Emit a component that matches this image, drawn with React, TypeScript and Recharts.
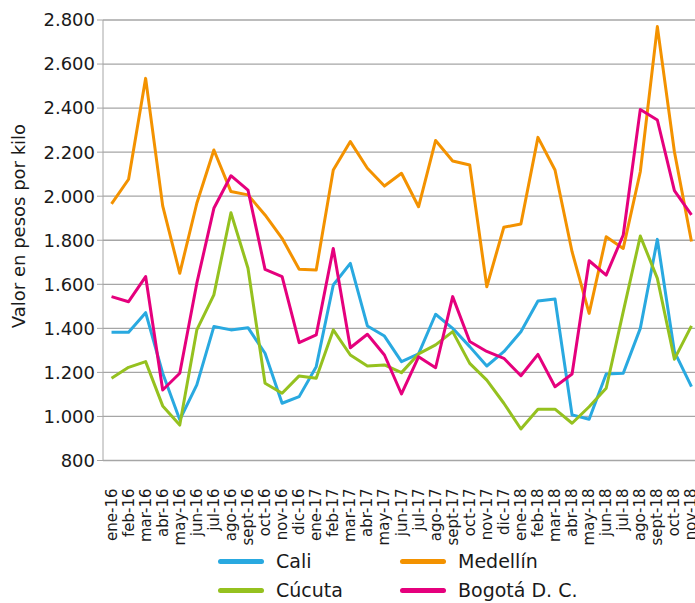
import { LineChart, Line, XAxis, YAxis, CartesianGrid, Legend } from 'recharts'

const months = [
  'ene-16', 'feb-16', 'mar-16', 'abr-16', 'may-16', 'jun-16', 'jul-16', 'ago-16', 'sept-16', 'oct-16', 'nov-16', 'dic-16',
  'ene-17', 'feb-17', 'mar-17', 'abr-17', 'may-17', 'jun-17', 'jul-17', 'ago-17', 'sept-17', 'oct-17', 'nov-17', 'dic-17',
  'ene-18', 'feb-18', 'mar-18', 'abr-18', 'may-18', 'jun-18', 'jul-18', 'ago-18', 'sept-18', 'oct-18', 'nov-18',
]

const cali = [
  1382, 1382, 1471, 1196, 985, 1143, 1408, 1393, 1403, 1287, 1060, 1090,
  1226, 1597, 1695, 1411, 1365, 1249, 1284, 1464, 1400, 1317, 1229,
  1294, 1385, 1524, 1533, 1007, 987, 1193, 1196, 1400, 1804, 1294, 1135,
]
const medellin = [
  1965, 2077, 2535, 1956, 1650, 1968, 2210, 2021, 2006, 1915, 1809, 1668,
  1665, 2119, 2248, 2127, 2046, 2104, 1952, 2253, 2160, 2142, 1589,
  1859, 1874, 2267, 2119, 1748, 1468, 1816, 1763, 2111, 2770, 2202, 1794,
]
const cucuta = [
  1173, 1223, 1249, 1048, 961, 1393, 1552, 1925, 1673, 1151, 1105, 1184,
  1173, 1393, 1279, 1229, 1234, 1199, 1284, 1325, 1385, 1241, 1165,
  1060, 943, 1033, 1033, 969, 1044, 1128, 1476, 1819, 1627, 1260, 1411,
]
const bogota = [
  1544, 1521, 1635, 1120, 1196, 1605, 1945, 2093, 2028, 1668, 1635, 1335,
  1370, 1763, 1312, 1373, 1279, 1102, 1271, 1221, 1544, 1340, 1295,
  1264, 1185, 1282, 1135, 1193, 1707, 1642, 1824, 2394, 2346, 2025, 1915,
]

const yTicks = [800, 1000, 1200, 1400, 1600, 1800, 2000, 2200, 2400, 2600, 2800]

const series = [
  { key: 'cali', name: 'Cali', color: '#29a9e0' },
  { key: 'medellin', name: 'Medellín', color: '#f39200' },
  { key: 'cucuta', name: 'Cúcuta', color: '#95c11f' },
  { key: 'bogota', name: 'Bogotá D. C.', color: '#e5007d' },
]

const data = months.map((m, i) => ({
  idx: i,
  month: m,
  cali: cali[i],
  medellin: medellin[i],
  cucuta: cucuta[i],
  bogota: bogota[i],
}))

const labelTicks = months.map((_, i) => i)
const boundaryTicks = [...months.map((_, i) => i - 0.5), months.length - 0.5]

const FONT = '"DejaVu Sans", sans-serif'
const GRID = '#a6a6a6'

const fmt = (v: number) => v.toLocaleString('de-DE')

const MonthTick = ({ x, y, payload }: any) => (
  <text
    transform={`translate(${x},${y + 20}) rotate(-90)`}
    textAnchor="end"
    dominantBaseline="central"
    fontSize={15}
    fontFamily={FONT}
    fill="#1a1a1a"
  >
    {months[payload.value]}
  </text>
)

const YTitle = () => (
  <text
    transform="translate(18,226) rotate(-90)"
    textAnchor="middle"
    dominantBaseline="central"
    fontSize={18}
    fontFamily={FONT}
    fill="#1a1a1a"
  >
    Valor en pesos por kilo
  </text>
)

const legendPos = [
  { left: 218, top: 20 },
  { left: 400, top: 20 },
  { left: 218, top: 49 },
  { left: 400, top: 49 },
]

const renderLegend = () => (
  <div style={{ position: 'relative', width: 695, height: 62, fontFamily: FONT }}>
    {series.map((s, i) => (
      <div key={s.key}>
        <div
          style={{
            position: 'absolute',
            left: legendPos[i].left,
            top: legendPos[i].top - 2.5,
            width: 46,
            height: 5,
            borderRadius: 3,
            background: s.color,
          }}
        />
        <div
          style={{
            position: 'absolute',
            left: legendPos[i].left + 58,
            top: legendPos[i].top - 12,
            fontSize: 19,
            lineHeight: '24px',
            color: '#1a1a1a',
          }}
        >
          {s.name}
        </div>
      </div>
    ))}
  </div>
)

export default function App() {
  return (
    <div style={{ position: 'absolute', left: 0, top: 0, width: 695, height: 603, overflow: 'hidden', background: '#fff' }}>
      <LineChart width={700} height={603} data={data} margin={{ top: 20, right: 0, bottom: 0, left: 0 }}>
        <CartesianGrid vertical={false} stroke={GRID} strokeWidth={1.3} />
        <XAxis
          xAxisId="marks"
          type="number"
          dataKey="idx"
          domain={[-0.5, months.length - 0.5]}
          ticks={boundaryTicks}
          interval={0}
          tick={false}
          tickLine={{ stroke: GRID }}
          stroke={GRID}
          height={0}
        />
        <XAxis
          xAxisId="labels"
          type="number"
          dataKey="idx"
          domain={[-0.5, months.length - 0.5]}
          ticks={labelTicks}
          interval={0}
          tick={<MonthTick />}
          tickLine={false}
          axisLine={false}
          height={80.5}
        />
        <YAxis
          domain={[800, 2800]}
          ticks={yTicks}
          interval={0}
          width={103}
          tickFormatter={fmt}
          tick={{ fontSize: 18, fontFamily: FONT, fill: '#1a1a1a' }}
          tickLine={{ stroke: GRID }}
          stroke={GRID}
          label={<YTitle />}
        />
        <Legend verticalAlign="bottom" height={62} content={renderLegend} wrapperStyle={{ left: 0, bottom: 0 }} />
        {series.map((s) => (
          <Line
            key={s.key}
            xAxisId="labels"
            type="linear"
            dataKey={s.key}
            name={s.name}
            stroke={s.color}
            strokeWidth={3}
            dot={false}
            strokeLinejoin="round"
            isAnimationActive={false}
          />
        ))}
      </LineChart>
    </div>
  )
}
